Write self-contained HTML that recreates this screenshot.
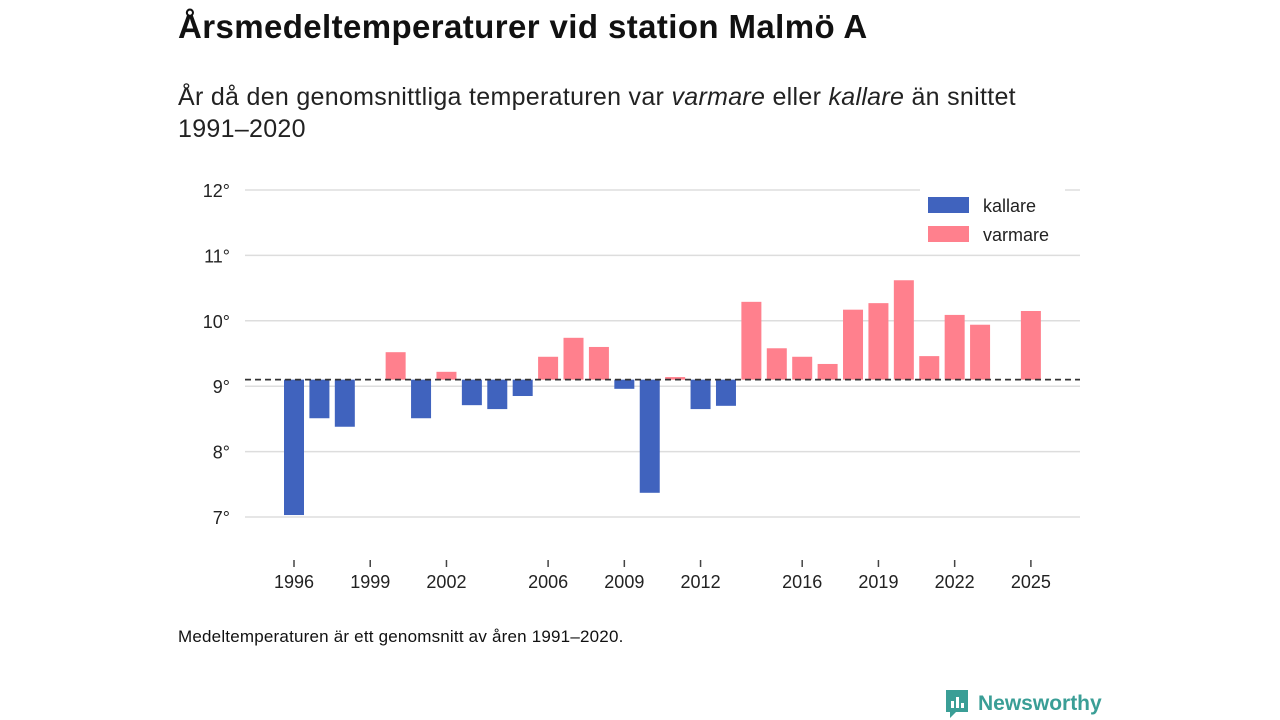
<!DOCTYPE html>
<html><head><meta charset="utf-8"><style>
body{margin:0;width:1280px;height:720px;background:#fff;font-family:"Liberation Sans","DejaVu Sans",sans-serif;overflow:hidden;position:relative;color:#111}
#title{position:absolute;left:178px;top:8px;font-size:33px;font-weight:bold;margin:0;letter-spacing:0.4px}
#sub{position:absolute;left:178px;top:81px;font-size:25px;line-height:32px;width:880px;color:#222;letter-spacing:0.3px}
#note{position:absolute;left:178px;top:627px;font-size:17px;color:#111;letter-spacing:0.2px}
#brand{position:absolute;left:944px;top:688px;font-size:21px;font-weight:bold;color:#3a9e96;display:flex;align-items:center;gap:8px}
svg{position:absolute;left:0;top:0}
</style></head><body>
<h1 id="title">Årsmedeltemperaturer vid station Malmö A</h1>
<div id="sub">År då den genomsnittliga temperaturen var <i>varmare</i> eller <i>kallare</i> än snittet <span style="white-space:nowrap">1991–2020</span></div>
<svg id="chart" width="1280" height="720"></svg>
<div id="note">Medeltemperaturen är ett genomsnitt av åren 1991–2020.</div>
<div id="brand"><svg width="26" height="32" style="position:static"><path d="M2 2h22v22h-12l-6 6v-6h-4z" fill="#3a9e96"/><rect x="7" y="13" width="3" height="7" fill="#fff"/><rect x="12" y="9" width="3" height="11" fill="#fff"/><rect x="17" y="15" width="3" height="5" fill="#fff"/></svg>Newsworthy</div>
<script>
const years=[1996,1997,1998,1999,2000,2001,2002,2003,2004,2005,2006,2007,2008,2009,2010,2011,2012,2013,2014,2015,2016,2017,2018,2019,2020,2021,2022,2023,2024,2025];
const temps=[7.03,8.51,8.38,null,9.52,8.51,9.22,8.71,8.65,8.85,9.45,9.74,9.60,8.96,7.37,9.14,8.65,8.70,10.29,9.58,9.45,9.34,10.17,10.27,10.62,9.46,10.09,9.94,null,10.15];
const baseline=9.1;
const yTicks=[7,8,9,10,11,12];
const xTicks=[1996,1999,2002,2006,2009,2012,2016,2019,2022,2025];
const NS="http://www.w3.org/2000/svg";
const svg=document.getElementById('chart');
const y=v=>190+(12-v)*65.4;
const x=yr=>294+(yr-1996)*25.41;
function mk(t,a,txt){const e=document.createElementNS(NS,t);for(const k in a)e.setAttribute(k,a[k]);if(txt!==undefined)e.textContent=txt;svg.appendChild(e);return e;}
yTicks.forEach(v=>{
 const g=mk('line',{x1:245,x2:1080,y1:y(v),y2:y(v),stroke:'#ddd','stroke-width':1.5});
 
 
 const t=mk('text',{x:230,y:y(v)+7,'text-anchor':'end','font-size':18,fill:'#222'},v+'°');
 
 
});
xTicks.forEach(yr=>{
 const l=mk('line',{x1:x(yr),x2:x(yr),y1:560,y2:567,stroke:'#444','stroke-width':1.5});
 
 
 const t=mk('text',{x:x(yr),y:588,'text-anchor':'middle','font-size':18,fill:'#222'},yr);
 
 
});
years.forEach((yr,i)=>{
 const v=temps[i];if(v===null)return;
 const top=Math.min(y(v),y(baseline)),h=Math.abs(y(v)-y(baseline));
 const r=mk('rect',{x:x(yr)-10,y:top,width:20,height:Math.max(h,1),fill:v<baseline?'#4063be':'#ff808d'});
 
 
});
const b=mk('line',{x1:245,x2:1080,y1:y(baseline),y2:y(baseline),stroke:'#333','stroke-width':1.8,'stroke-dasharray':'6,4'});


const lb=mk('rect',{x:920,y:188,width:145,height:62,fill:'#fff'});


[['kallare','#4063be',205],['varmare','#ff808d',234]].forEach(([n,c,yy])=>{
 const s=mk('rect',{x:928,y:yy-8,width:41,height:16,fill:c});
 
 
 const t=mk('text',{x:983,y:yy+7,'font-size':18,fill:'#222'},n);
 
 
});
</script>
</body></html>
